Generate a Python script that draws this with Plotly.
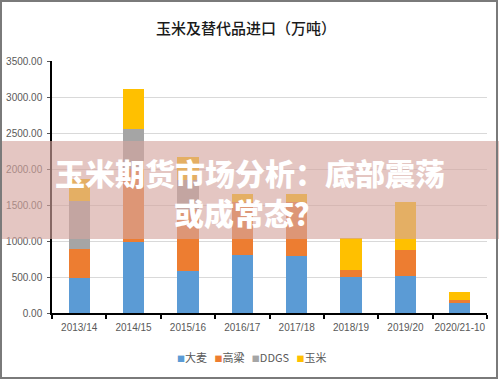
import plotly.graph_objects as go

categories = ["2013/14", "2014/15", "2015/16", "2016/17", "2017/18", "2018/19", "2019/20", "2020/21-10"]
series_names = ["大麦", "高粱", "DDGS", "玉米"]
barley = [480, 980, 590, 805, 790, 505, 514, 135]
sorghum = [410, 1020, 840, 740, 745, 92, 361, 48]
ddgs = [670, 550, 420, 0, 0, 0, 0, 0]
corn = [300, 555, 320, 108, 118, 440, 662, 105]
y_ticks = [0, 500, 1000, 1500, 2000, 2500, 3000, 3500]

colors = ["#5B9BD5", "#ED7D31", "#A5A5A5", "#FFC000"]
values = [barley, sorghum, ddgs, corn]

W, H = 499, 380
L, R, T, B = 52, 487, 61, 313


def px(x):
    return (x - L) / (R - L)


def py(y):
    return (B - y) / (B - T)


fig = go.Figure()
for name, vals, col in zip(series_names, values, colors):
    fig.add_trace(go.Bar(x=categories, y=vals, name=name, marker_color=col,
                         marker_line_width=0, showlegend=False, hoverinfo="skip"))

tick_font = dict(family="Liberation Sans Narrow, Liberation Sans, Arial", size=10, color="#595959")

fig.update_layout(
    width=W, height=H,
    margin=dict(l=L, r=W - R, t=T, b=H - B, autoexpand=False),
    paper_bgcolor="white", plot_bgcolor="white",
    barmode="stack", bargap=0.61,
    showlegend=False,
    xaxis=dict(type="category", showline=True, linecolor="black", linewidth=2,
               ticks="outside", tickson="boundaries", ticklen=4, tickcolor="black",
               tickwidth=1.5, tickfont=tick_font, showgrid=False, tickangle=0,
               automargin=False, ticklabelstandoff=4),
    yaxis=dict(range=[0, 3500], tickvals=y_ticks, tickformat=".2f", showline=True,
               linecolor="black", linewidth=1.5, ticks="outside", ticklen=3,
               tickcolor="#555", gridcolor="#D9D9D9", gridwidth=1,
               tickfont=tick_font, zeroline=False, automargin=False,
               ticklabelstandoff=3),
)


def note(x, y, text, font):
    fig.add_annotation(x=px(x), y=py(y), xref="paper", yref="paper", showarrow=False,
                       xanchor="center", yanchor="middle", text=text, font=font)


# title
note(246, 27, "玉米及替代品进口（万吨）",
     dict(family="Noto Sans CJK SC", size=15, color="#1a1a1a", weight=500))

# legend built from series names
legend_text = "   ".join(
    f"<span style='color:{c};font-size:8px'>■</span>{n}" for n, c in zip(series_names, colors))
note(251, 357, legend_text, dict(family="Noto Sans CJK SC", size=11, color="#595959"))

# overlay band
fig.add_shape(type="rect", xref="paper", yref="paper", x0=px(0), x1=px(499),
              y0=py(141), y1=py(239), fillcolor="rgba(212,164,159,0.63)",
              line_width=0, layer="above")

# overlay headline
note(250, 172, "玉米期货市场分析：底部震荡",
     dict(family="Noto Sans CJK SC", size=30, color="white", weight=900))
note(249, 212, "或成常态？",
     dict(family="Noto Sans CJK SC", size=30, color="white", weight=900))

# frame
fig.add_shape(type="rect", xref="paper", yref="paper", x0=px(1), x1=px(497),
              y0=py(1), y1=py(378), line=dict(color="#7A7A7A", width=2),
              fillcolor="rgba(0,0,0,0)", layer="above")

fig.write_html("out.html", config={"displayModeBar": False},
               post_script="document.body.style.margin='0';")
